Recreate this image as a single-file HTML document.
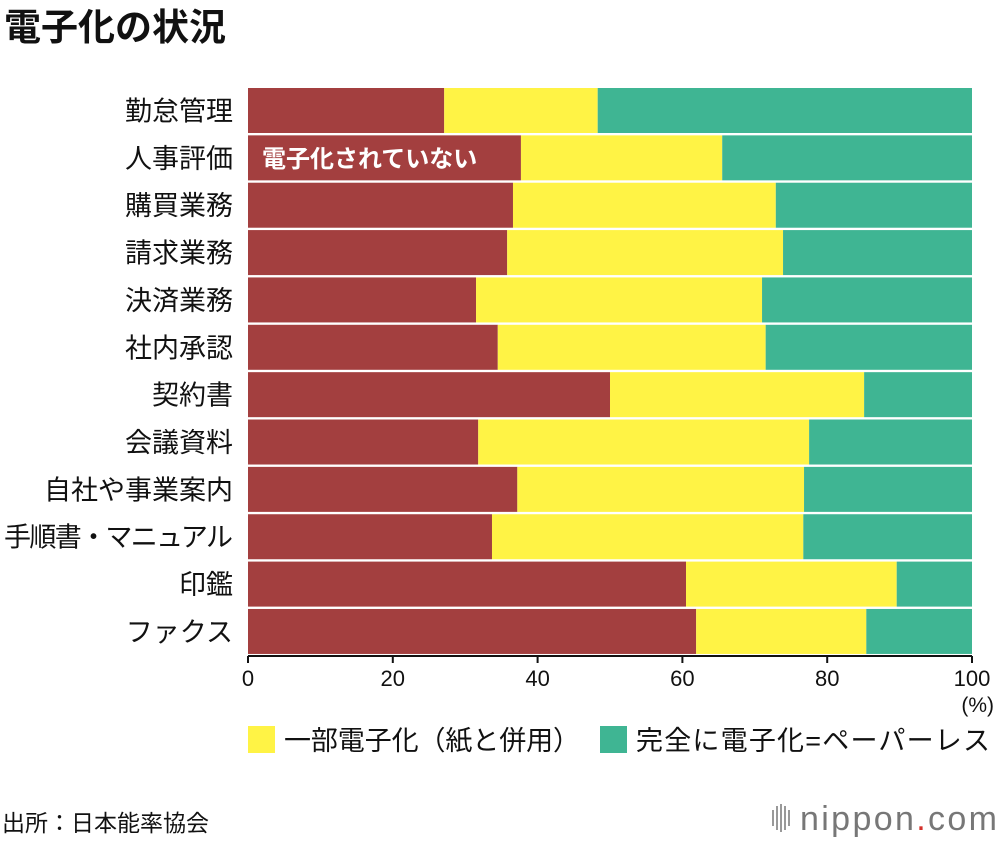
<!DOCTYPE html>
<html><head><meta charset="utf-8"><style>
body{margin:0;background:#fff;width:1000px;height:842px;overflow:hidden;font-family:"Liberation Sans","Noto Sans CJK JP",sans-serif;}
svg text{font-family:"Liberation Sans","Noto Sans CJK JP",sans-serif;}
</style></head><body>
<svg id="chart" width="1000" height="842" xmlns="http://www.w3.org/2000/svg">
<text x="4" y="40" font-size="37" font-weight="bold" fill="#111">電子化の状況</text>
<g id="bars"></g>
<g id="yl"></g>
<g id="xa"></g>
<text x="994" y="712" font-size="21" text-anchor="end" fill="#111">(%)</text>
<rect x="248" y="726" width="27" height="27" fill="#fff345"/>
<text x="284" y="750" font-size="27" fill="#111" textLength="296">一部電子化（紙と併用）</text>
<rect x="600" y="726" width="27" height="27" fill="#3fb593"/>
<text x="636" y="750" font-size="27" fill="#111" textLength="354">完全に電子化=ペーパーレス</text>
<text x="2" y="831" font-size="23" fill="#111">出所：日本能率協会</text>
<g>
<g fill="#999"><rect x="772" y="810" width="2" height="16"/><rect x="776" y="806" width="2" height="24"/><rect x="780" y="804" width="2" height="28"/><rect x="784" y="806" width="2" height="24"/><rect x="788" y="810" width="2" height="16"/></g>
<text x="800" y="830" font-size="34" fill="#777" textLength="197">nippon<tspan fill="#d4312b">.</tspan>com</text>
</g>
</svg>
<script>
const categories=["勤怠管理","人事評価","購買業務","請求業務","決済業務","社内承認","契約書","会議資料","自社や事業案内","手順書・マニュアル","印鑑","ファクス"];
const notDigital=[27.1,37.7,36.6,35.8,31.5,34.5,50.0,31.8,37.2,33.7,60.5,61.9];
const partial=[21.2,27.8,36.3,38.1,39.5,37.0,35.1,45.7,39.6,43.0,29.1,23.5];
const xTicks=[0,20,40,60,80,100];
const NS="http://www.w3.org/2000/svg";
const x=v=>248+v*7.24;
const yTop=i=>88+i*47.36;
const bh=45;
function mk(t,a,p){const e=document.createElementNS(NS,t);for(const k in a)e.setAttribute(k,a[k]);p.appendChild(e);return e;}
const bars=document.getElementById('bars'),yl=document.getElementById('yl'),xa=document.getElementById('xa');
categories.forEach((c,i)=>{
 const y=yTop(i),a=notDigital[i],b=a+partial[i];
 const r1=mk('rect',{x:x(0),y:y,width:x(a)-x(0),height:bh,fill:'#a33f3f'},bars);
 
 
 const r2=mk('rect',{x:x(a),y:y,width:x(b)-x(a),height:bh,fill:'#fff345'},bars);
 
 
 const r3=mk('rect',{x:x(b),y:y,width:x(100)-x(b),height:bh,fill:'#3fb593'},bars);
 
 
 const t=mk('text',{x:233,y:y+bh/2+10,'font-size':27,'text-anchor':'end',fill:'#111'},yl);
 if(c.length>8)t.setAttribute('textLength',229);
 t.textContent=c;
 
 
});
const inl=mk('text',{x:262,y:yTop(1)+bh/2+9,'font-size':24,'font-weight':'bold',fill:'#fff'},bars);
inl.textContent='電子化されていない';


const ax=mk('line',{x1:x(0),x2:x(100),y1:656,y2:656,stroke:'#111','stroke-width':2},xa);


xTicks.forEach(v=>{
 const l=mk('line',{x1:x(v),x2:x(v),y1:656,y2:663,stroke:'#111','stroke-width':2},xa);
 
 
 const t=mk('text',{x:x(v),y:686,'font-size':22,'text-anchor':'middle',fill:'#111'},xa);
 t.textContent=v;
 
 
});
</script>
</body></html>
